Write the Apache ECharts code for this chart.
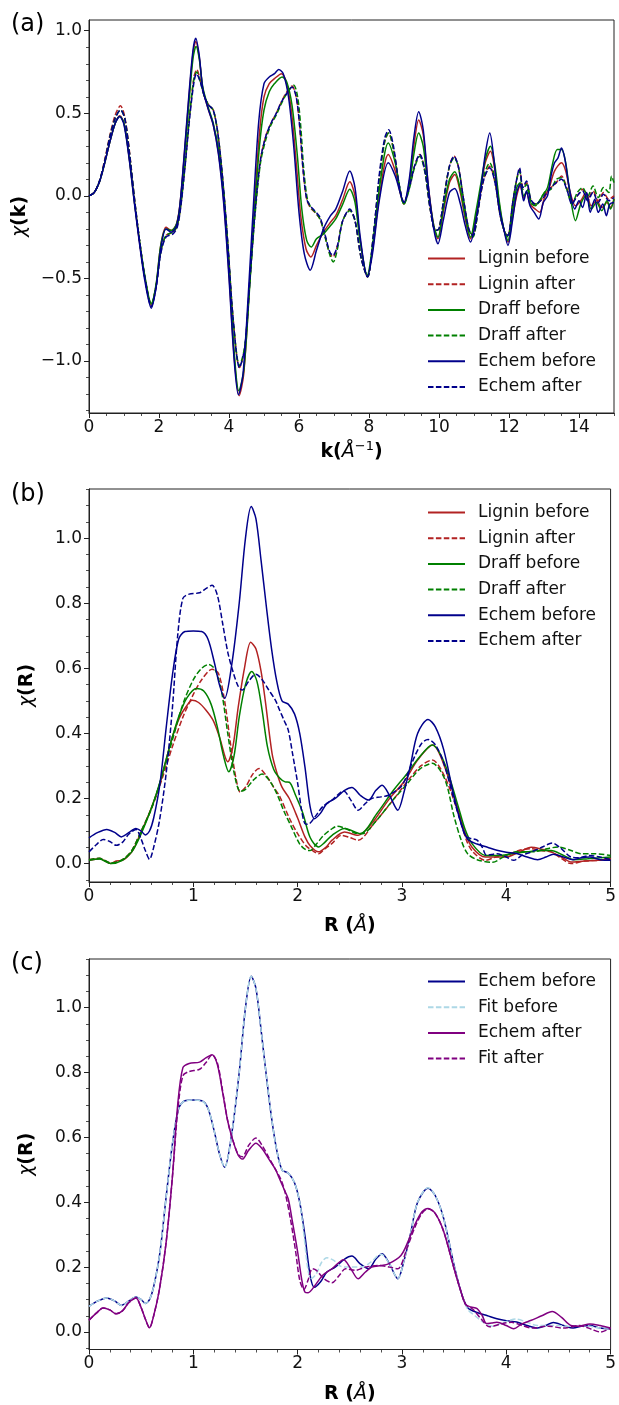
<!DOCTYPE html>
<html><head><meta charset="utf-8">
<script src="https://cdn.jsdelivr.net/npm/echarts@6/dist/echarts.min.js"></script>
<style>html,body{margin:0;padding:0;background:#fff}#c{width:619px;height:1405px}</style>
</head><body><div id="c"></div>
<script>
// ---------------- Panel (a): chi(k) ----------------
const aLigninBefore = [[0,0],[0.15,0.02],[0.3,0.085],[0.45,0.2],[0.6,0.33],[0.75,0.44],[0.88,0.485],[1.0,0.44],[1.15,0.23],[1.3,-0.04],[1.45,-0.29],[1.6,-0.5],[1.78,-0.665],[1.92,-0.54],[2.05,-0.3],[2.2,-0.19],[2.35,-0.21],[2.5,-0.17],[2.6,-0.05],[2.72,0.24],[2.85,0.58],[2.97,0.86],[3.05,0.935],[3.15,0.84],[3.25,0.65],[3.4,0.53],[3.55,0.43],[3.7,0.26],[3.85,-0.03],[4.0,-0.47],[4.15,-0.98],[4.29,-1.21],[4.42,-1.08],[4.57,-0.6],[4.72,-0.08],[4.87,0.38],[5.0,0.6],[5.15,0.68],[5.3,0.71],[5.5,0.74],[5.62,0.7],[5.78,0.52],[5.92,0.2],[6.05,-0.12],[6.2,-0.32],[6.34,-0.37],[6.5,-0.3],[6.7,-0.22],[6.9,-0.16],[7.05,-0.12],[7.25,-0.02],[7.45,0.085],[7.6,0.0],[7.75,-0.27],[7.95,-0.49],[8.1,-0.33],[8.3,0.0],[8.55,0.25],[8.75,0.15],[9.0,-0.05],[9.15,0.08],[9.28,0.3],[9.42,0.46],[9.55,0.37],[9.7,0.05],[9.85,-0.18],[9.97,-0.26],[10.12,-0.1],[10.3,0.08],[10.45,0.13],[10.6,0.03],[10.75,-0.14],[10.9,-0.26],[11.05,-0.13],[11.2,0.05],[11.32,0.2],[11.47,0.27],[11.6,0.15],[11.72,-0.05],[11.85,-0.2],[11.97,-0.28],[12.1,-0.13],[12.22,0.0],[12.32,0.06],[12.42,-0.01],[12.5,0.02],[12.6,-0.05],[12.75,-0.08],[12.88,-0.1],[13.0,-0.02],[13.15,0.05],[13.3,0.15],[13.5,0.2],[13.62,0.15],[13.75,0.02],[13.9,-0.06],[14.05,-0.03],[14.2,0.02],[14.35,-0.06],[14.5,-0.03],[14.65,-0.07],[14.8,-0.04],[14.9,-0.07],[15,-0.02]];
const aLigninAfter = [[0,0],[0.15,0.02],[0.3,0.09],[0.45,0.22],[0.6,0.37],[0.75,0.49],[0.9,0.545],[1.02,0.48],[1.15,0.28],[1.3,-0.02],[1.45,-0.28],[1.6,-0.5],[1.78,-0.66],[1.92,-0.54],[2.05,-0.34],[2.2,-0.24],[2.4,-0.22],[2.52,-0.18],[2.62,-0.06],[2.75,0.2],[2.88,0.5],[3.0,0.72],[3.08,0.765],[3.18,0.7],[3.3,0.6],[3.42,0.55],[3.55,0.52],[3.68,0.38],[3.82,0.1],[3.97,-0.3],[4.12,-0.75],[4.3,-1.04],[4.45,-0.92],[4.6,-0.5],[4.75,-0.08],[4.9,0.22],[5.05,0.36],[5.2,0.44],[5.35,0.5],[5.5,0.57],[5.65,0.63],[5.8,0.665],[5.92,0.6],[6.02,0.42],[6.12,0.15],[6.22,-0.02],[6.32,-0.07],[6.45,-0.1],[6.6,-0.14],[6.75,-0.25],[6.88,-0.35],[6.97,-0.37],[7.1,-0.3],[7.25,-0.15],[7.45,-0.085],[7.6,-0.15],[7.78,-0.38],[7.96,-0.49],[8.12,-0.25],[8.3,0.12],[8.45,0.33],[8.56,0.38],[8.7,0.28],[8.85,0.08],[9.0,-0.04],[9.15,0.05],[9.3,0.18],[9.45,0.25],[9.6,0.15],[9.75,-0.08],[9.9,-0.21],[10.0,-0.2],[10.15,0.0],[10.3,0.18],[10.43,0.24],[10.55,0.18],[10.7,-0.02],[10.85,-0.2],[10.97,-0.24],[11.12,-0.08],[11.28,0.1],[11.45,0.18],[11.6,0.08],[11.75,-0.12],[11.88,-0.22],[11.97,-0.24],[12.1,-0.05],[12.22,0.1],[12.3,0.16],[12.4,0.05],[12.5,0.08],[12.62,-0.02],[12.75,-0.05],[12.9,-0.03],[13.05,0.02],[13.2,0.05],[13.35,0.08],[13.5,0.12],[13.65,0.05],[13.8,-0.04],[13.95,0.0],[14.1,0.04],[14.25,-0.02],[14.4,0.03],[14.55,-0.03],[14.7,0.02],[14.85,-0.02],[15,0.0]];
const aDraffBefore = [[0,0],[0.15,0.02],[0.3,0.085],[0.45,0.2],[0.6,0.33],[0.75,0.44],[0.88,0.48],[1.0,0.44],[1.15,0.23],[1.3,-0.04],[1.45,-0.28],[1.6,-0.49],[1.78,-0.655],[1.92,-0.53],[2.05,-0.3],[2.2,-0.2],[2.35,-0.21],[2.5,-0.17],[2.6,-0.06],[2.72,0.22],[2.85,0.55],[2.97,0.83],[3.06,0.905],[3.15,0.83],[3.25,0.66],[3.4,0.54],[3.55,0.44],[3.7,0.28],[3.85,0.0],[4.0,-0.43],[4.15,-0.95],[4.28,-1.18],[4.42,-1.06],[4.57,-0.62],[4.72,-0.12],[4.87,0.3],[5.0,0.52],[5.15,0.63],[5.3,0.68],[5.52,0.72],[5.65,0.69],[5.8,0.55],[5.95,0.25],[6.08,-0.08],[6.22,-0.27],[6.35,-0.31],[6.5,-0.26],[6.7,-0.23],[6.9,-0.18],[7.05,-0.14],[7.25,-0.05],[7.45,0.04],[7.6,-0.04],[7.75,-0.28],[7.95,-0.48],[8.1,-0.3],[8.3,0.05],[8.55,0.32],[8.75,0.2],[9.0,-0.05],[9.15,0.06],[9.28,0.25],[9.42,0.38],[9.55,0.3],[9.7,0.03],[9.85,-0.18],[9.97,-0.25],[10.12,-0.08],[10.3,0.1],[10.45,0.146],[10.6,0.05],[10.75,-0.12],[10.9,-0.25],[11.05,-0.1],[11.2,0.08],[11.32,0.22],[11.47,0.3],[11.6,0.18],[11.72,-0.03],[11.85,-0.2],[11.97,-0.27],[12.1,-0.1],[12.22,0.05],[12.32,0.08],[12.42,0.0],[12.55,0.04],[12.65,-0.05],[12.8,-0.05],[12.95,0.0],[13.1,0.05],[13.25,0.2],[13.38,0.28],[13.5,0.28],[13.62,0.2],[13.75,0.0],[13.9,-0.15],[14.05,-0.05],[14.2,0.0],[14.35,-0.08],[14.5,-0.04],[14.65,-0.09],[14.8,-0.03],[14.9,-0.08],[15,-0.02]];
const aDraffAfter = [[0,0],[0.15,0.02],[0.3,0.09],[0.45,0.21],[0.6,0.36],[0.75,0.47],[0.9,0.52],[1.02,0.47],[1.15,0.27],[1.3,-0.02],[1.45,-0.28],[1.6,-0.5],[1.78,-0.655],[1.92,-0.54],[2.05,-0.34],[2.2,-0.24],[2.4,-0.22],[2.52,-0.18],[2.62,-0.06],[2.75,0.2],[2.88,0.5],[3.0,0.71],[3.08,0.75],[3.18,0.69],[3.3,0.6],[3.42,0.55],[3.55,0.52],[3.68,0.38],[3.82,0.1],[3.97,-0.3],[4.12,-0.75],[4.3,-1.03],[4.45,-0.91],[4.6,-0.5],[4.75,-0.1],[4.9,0.2],[5.05,0.34],[5.2,0.43],[5.35,0.49],[5.5,0.56],[5.65,0.62],[5.85,0.67],[5.96,0.6],[6.05,0.42],[6.14,0.15],[6.24,-0.02],[6.34,-0.07],[6.47,-0.1],[6.62,-0.15],[6.77,-0.27],[6.9,-0.37],[6.98,-0.4],[7.1,-0.32],[7.25,-0.15],[7.45,-0.09],[7.6,-0.15],[7.78,-0.38],[7.96,-0.49],[8.12,-0.25],[8.3,0.12],[8.45,0.33],[8.56,0.38],[8.7,0.28],[8.85,0.08],[9.0,-0.05],[9.15,0.04],[9.3,0.17],[9.45,0.24],[9.6,0.14],[9.75,-0.08],[9.9,-0.21],[10.0,-0.2],[10.15,0.0],[10.3,0.18],[10.43,0.23],[10.55,0.18],[10.7,-0.02],[10.85,-0.2],[10.97,-0.25],[11.12,-0.08],[11.28,0.12],[11.45,0.2],[11.6,0.1],[11.75,-0.12],[11.88,-0.22],[11.97,-0.25],[12.1,-0.05],[12.22,0.1],[12.3,0.15],[12.4,0.04],[12.5,0.07],[12.62,-0.04],[12.75,-0.06],[12.9,-0.02],[13.05,0.03],[13.2,0.04],[13.35,0.1],[13.5,0.11],[13.65,0.04],[13.8,-0.05],[13.95,0.02],[14.1,0.05],[14.25,0.0],[14.4,0.06],[14.55,-0.01],[14.7,0.05],[14.85,0.02],[14.93,0.12],[15,0.08]];
const aEchemBefore = [[0,0],[0.15,0.02],[0.3,0.085],[0.45,0.2],[0.6,0.33],[0.75,0.44],[0.88,0.48],[1.0,0.43],[1.15,0.22],[1.3,-0.05],[1.45,-0.3],[1.6,-0.52],[1.78,-0.68],[1.92,-0.55],[2.05,-0.32],[2.2,-0.2],[2.35,-0.22],[2.5,-0.18],[2.6,-0.05],[2.72,0.25],[2.85,0.6],[2.97,0.88],[3.05,0.955],[3.15,0.85],[3.25,0.65],[3.4,0.53],[3.55,0.43],[3.7,0.25],[3.85,-0.05],[4.0,-0.5],[4.15,-1.0],[4.27,-1.205],[4.4,-1.08],[4.55,-0.6],[4.7,-0.05],[4.85,0.45],[5.0,0.68],[5.15,0.72],[5.3,0.74],[5.42,0.765],[5.55,0.74],[5.7,0.6],[5.85,0.3],[6.0,-0.1],[6.15,-0.35],[6.32,-0.45],[6.5,-0.33],[6.7,-0.2],[6.9,-0.12],[7.05,-0.08],[7.25,0.03],[7.45,0.15],[7.6,0.05],[7.75,-0.25],[7.95,-0.49],[8.1,-0.35],[8.3,-0.02],[8.55,0.2],[8.75,0.12],[9.0,-0.04],[9.15,0.1],[9.28,0.35],[9.42,0.51],[9.55,0.4],[9.7,0.05],[9.85,-0.2],[9.97,-0.29],[10.12,-0.15],[10.3,0.02],[10.45,0.045],[10.6,-0.04],[10.75,-0.18],[10.9,-0.28],[11.05,-0.15],[11.2,0.05],[11.32,0.25],[11.45,0.38],[11.58,0.2],[11.7,-0.05],[11.85,-0.2],[11.97,-0.3],[12.1,-0.15],[12.22,0.02],[12.32,0.07],[12.42,-0.03],[12.5,0.03],[12.6,-0.06],[12.72,-0.1],[12.85,-0.14],[12.98,-0.04],[13.1,0.0],[13.2,0.12],[13.3,0.2],[13.4,0.23],[13.5,0.29],[13.6,0.22],[13.72,0.05],[13.88,-0.08],[14.0,-0.03],[14.1,-0.07],[14.22,0.02],[14.32,-0.1],[14.45,-0.02],[14.55,-0.1],[14.68,-0.05],[14.78,-0.12],[14.88,-0.05],[15,-0.04]];
const aEchemAfter = [[0,0],[0.15,0.02],[0.3,0.09],[0.45,0.21],[0.6,0.36],[0.75,0.47],[0.9,0.52],[1.02,0.47],[1.15,0.27],[1.3,-0.02],[1.45,-0.28],[1.6,-0.5],[1.78,-0.67],[1.92,-0.55],[2.05,-0.35],[2.2,-0.25],[2.4,-0.23],[2.52,-0.19],[2.62,-0.07],[2.75,0.19],[2.88,0.48],[3.0,0.69],[3.07,0.74],[3.18,0.69],[3.3,0.6],[3.42,0.55],[3.55,0.52],[3.68,0.38],[3.82,0.1],[3.97,-0.3],[4.12,-0.75],[4.3,-1.04],[4.45,-0.92],[4.6,-0.5],[4.75,-0.08],[4.9,0.22],[5.05,0.36],[5.2,0.44],[5.35,0.5],[5.5,0.57],[5.65,0.62],[5.8,0.66],[5.92,0.6],[6.02,0.42],[6.12,0.15],[6.22,-0.02],[6.32,-0.06],[6.45,-0.09],[6.6,-0.13],[6.75,-0.24],[6.88,-0.34],[6.97,-0.36],[7.1,-0.3],[7.25,-0.15],[7.45,-0.08],[7.6,-0.15],[7.78,-0.38],[7.96,-0.49],[8.12,-0.25],[8.3,0.14],[8.45,0.35],[8.56,0.4],[8.7,0.3],[8.85,0.08],[9.0,-0.04],[9.15,0.05],[9.3,0.18],[9.45,0.25],[9.6,0.15],[9.75,-0.08],[9.9,-0.21],[10.0,-0.2],[10.15,0.0],[10.3,0.18],[10.43,0.24],[10.55,0.18],[10.7,-0.02],[10.85,-0.2],[10.97,-0.24],[11.12,-0.08],[11.28,0.1],[11.45,0.17],[11.6,0.08],[11.75,-0.12],[11.88,-0.22],[11.97,-0.24],[12.1,-0.05],[12.22,0.1],[12.3,0.17],[12.4,0.05],[12.5,0.09],[12.62,-0.02],[12.75,-0.05],[12.9,-0.03],[13.05,0.01],[13.2,0.05],[13.35,0.08],[13.5,0.1],[13.65,0.04],[13.8,-0.05],[13.95,0.0],[14.1,0.03],[14.25,-0.03],[14.4,0.02],[14.55,-0.04],[14.7,0.01],[14.85,-0.03],[15,-0.01]];

// ---------------- Panel (b): chi(R) ----------------
const bLigninBefore = [[0,0.01],[0.1,0.015],[0.21,0.0],[0.26,0.008],[0.32,0.01],[0.41,0.036],[0.47,0.075],[0.55,0.133],[0.62,0.19],[0.68,0.246],[0.74,0.32],[0.8,0.39],[0.87,0.45],[0.93,0.482],[0.99,0.502],[1.05,0.495],[1.12,0.472],[1.19,0.44],[1.25,0.39],[1.33,0.313],[1.38,0.36],[1.43,0.48],[1.49,0.6],[1.55,0.68],[1.6,0.66],[1.65,0.59],[1.69,0.5],[1.755,0.338],[1.8,0.28],[1.85,0.235],[1.92,0.2],[2.0,0.14],[2.07,0.082],[2.12,0.055],[2.2,0.036],[2.27,0.05],[2.33,0.072],[2.45,0.097],[2.58,0.087],[2.71,0.123],[2.87,0.195],[3.03,0.256],[3.15,0.318],[3.295,0.364],[3.41,0.297],[3.54,0.164],[3.6,0.1],[3.67,0.051],[3.8,0.02],[3.99,0.02],[4.12,0.035],[4.24,0.05],[4.33,0.045],[4.43,0.036],[4.53,0.02],[4.62,0.005],[4.75,0.008],[4.88,0.01],[5.0,0.015]];
const bLigninAfter = [[0,0.012],[0.1,0.016],[0.21,0.002],[0.32,0.012],[0.41,0.04],[0.5,0.1],[0.6,0.17],[0.7,0.26],[0.8,0.36],[0.9,0.45],[1.0,0.52],[1.08,0.565],[1.18,0.597],[1.24,0.585],[1.3,0.5],[1.36,0.36],[1.41,0.26],[1.45,0.22],[1.5,0.235],[1.57,0.275],[1.63,0.292],[1.7,0.27],[1.77,0.235],[1.83,0.205],[1.92,0.14],[2.0,0.092],[2.08,0.055],[2.16,0.036],[2.2,0.03],[2.26,0.045],[2.33,0.062],[2.42,0.087],[2.5,0.08],[2.58,0.072],[2.73,0.123],[2.89,0.185],[3.06,0.256],[3.18,0.3],[3.29,0.318],[3.41,0.267],[3.54,0.154],[3.62,0.07],[3.68,0.036],[3.8,0.01],[3.9,0.02],[4.0,0.025],[4.12,0.04],[4.24,0.046],[4.33,0.04],[4.43,0.036],[4.53,0.015],[4.62,0.0],[4.75,0.008],[4.88,0.01],[5.0,0.016]];
const bDraffBefore = [[0,0.01],[0.1,0.014],[0.21,0.0],[0.32,0.01],[0.41,0.036],[0.47,0.07],[0.55,0.13],[0.62,0.19],[0.68,0.25],[0.74,0.32],[0.8,0.39],[0.87,0.46],[0.94,0.51],[1.03,0.538],[1.1,0.53],[1.17,0.49],[1.23,0.42],[1.29,0.33],[1.34,0.282],[1.39,0.33],[1.44,0.45],[1.5,0.55],[1.56,0.59],[1.61,0.56],[1.66,0.47],[1.71,0.36],[1.77,0.29],[1.83,0.262],[1.88,0.251],[1.92,0.25],[1.98,0.21],[2.05,0.155],[2.12,0.08],[2.2,0.051],[2.26,0.065],[2.33,0.087],[2.45,0.108],[2.6,0.092],[2.76,0.154],[2.92,0.226],[3.05,0.277],[3.17,0.328],[3.29,0.364],[3.41,0.307],[3.54,0.175],[3.6,0.11],[3.67,0.062],[3.8,0.025],[3.93,0.025],[4.05,0.03],[4.2,0.036],[4.32,0.04],[4.43,0.04],[4.55,0.025],[4.65,0.012],[4.78,0.015],[4.9,0.018],[5.0,0.02]];
const bDraffAfter = [[0,0.012],[0.1,0.016],[0.21,0.002],[0.32,0.012],[0.41,0.04],[0.5,0.1],[0.6,0.17],[0.7,0.27],[0.8,0.38],[0.9,0.49],[1.0,0.565],[1.08,0.6],[1.15,0.612],[1.21,0.595],[1.27,0.53],[1.33,0.4],[1.39,0.28],[1.45,0.222],[1.5,0.228],[1.58,0.258],[1.66,0.275],[1.73,0.255],[1.8,0.215],[1.87,0.16],[1.94,0.113],[2.02,0.06],[2.08,0.042],[2.12,0.04],[2.18,0.06],[2.25,0.087],[2.32,0.105],[2.38,0.115],[2.46,0.108],[2.54,0.095],[2.62,0.092],[2.75,0.13],[2.9,0.19],[3.05,0.245],[3.17,0.29],[3.29,0.308],[3.41,0.26],[3.5,0.144],[3.57,0.07],[3.63,0.03],[3.72,0.012],[3.87,0.004],[3.97,0.02],[4.09,0.036],[4.25,0.036],[4.38,0.045],[4.5,0.051],[4.62,0.04],[4.72,0.03],[4.85,0.03],[5.0,0.025]];
const bEchemBefore = [[0,0.079],[0.08,0.095],[0.17,0.105],[0.25,0.095],[0.31,0.082],[0.38,0.095],[0.45,0.108],[0.5,0.1],[0.54,0.088],[0.58,0.1],[0.62,0.14],[0.68,0.245],[0.74,0.418],[0.8,0.58],[0.86,0.69],[0.92,0.713],[1.0,0.715],[1.08,0.713],[1.14,0.69],[1.2,0.62],[1.25,0.55],[1.3,0.508],[1.37,0.615],[1.44,0.8],[1.5,1.0],[1.555,1.097],[1.6,1.06],[1.65,0.93],[1.7,0.79],[1.75,0.66],[1.8,0.56],[1.85,0.5],[1.91,0.49],[1.97,0.46],[2.02,0.4],[2.07,0.297],[2.12,0.174],[2.16,0.138],[2.22,0.155],[2.28,0.185],[2.36,0.2],[2.45,0.225],[2.52,0.234],[2.6,0.21],[2.68,0.195],[2.75,0.225],[2.81,0.241],[2.88,0.21],[2.96,0.164],[3.02,0.22],[3.08,0.3],[3.15,0.4],[3.25,0.443],[3.32,0.42],[3.4,0.35],[3.5,0.205],[3.57,0.12],[3.63,0.075],[3.72,0.06],[3.82,0.05],[3.91,0.041],[4.0,0.035],[4.1,0.031],[4.2,0.02],[4.3,0.012],[4.38,0.02],[4.45,0.029],[4.55,0.02],[4.64,0.012],[4.72,0.018],[4.8,0.02],[4.9,0.012],[5.0,0.01]];
const bEchemAfter = [[0,0.036],[0.07,0.058],[0.136,0.074],[0.2,0.068],[0.26,0.056],[0.32,0.065],[0.38,0.09],[0.45,0.105],[0.5,0.075],[0.54,0.04],[0.58,0.013],[0.62,0.05],[0.676,0.133],[0.74,0.278],[0.8,0.48],[0.85,0.7],[0.9,0.815],[0.96,0.828],[1.06,0.832],[1.12,0.845],[1.18,0.855],[1.23,0.825],[1.28,0.74],[1.33,0.65],[1.38,0.59],[1.43,0.545],[1.47,0.533],[1.53,0.56],[1.6,0.582],[1.66,0.565],[1.72,0.535],[1.79,0.5],[1.82,0.477],[1.87,0.44],[1.91,0.41],[1.95,0.34],[2.0,0.247],[2.04,0.16],[2.07,0.123],[2.1,0.121],[2.17,0.145],[2.24,0.175],[2.33,0.195],[2.44,0.223],[2.51,0.195],[2.58,0.164],[2.65,0.185],[2.71,0.2],[2.8,0.205],[2.87,0.21],[2.99,0.236],[3.06,0.28],[3.12,0.328],[3.19,0.37],[3.25,0.381],[3.32,0.365],[3.4,0.31],[3.5,0.195],[3.56,0.13],[3.61,0.085],[3.66,0.077],[3.72,0.072],[3.77,0.05],[3.81,0.026],[3.86,0.028],[3.91,0.03],[4.0,0.02],[4.07,0.01],[4.15,0.025],[4.24,0.036],[4.34,0.05],[4.44,0.063],[4.53,0.045],[4.62,0.02],[4.7,0.018],[4.8,0.025],[4.9,0.02],[5.0,0.012]];

// ---------------- Panel (c): fits ----------------
const cEchemBefore = bEchemBefore;
const cFitBefore = [[0,0.079],[0.08,0.095],[0.17,0.105],[0.25,0.095],[0.31,0.082],[0.38,0.095],[0.45,0.108],[0.5,0.1],[0.54,0.088],[0.58,0.1],[0.62,0.14],[0.68,0.245],[0.74,0.418],[0.8,0.58],[0.86,0.69],[0.92,0.713],[1.0,0.715],[1.08,0.713],[1.14,0.69],[1.2,0.62],[1.25,0.55],[1.3,0.508],[1.37,0.615],[1.44,0.8],[1.5,1.0],[1.555,1.097],[1.6,1.06],[1.65,0.93],[1.7,0.79],[1.75,0.66],[1.8,0.56],[1.85,0.5],[1.91,0.49],[1.97,0.46],[2.02,0.4],[2.06,0.3],[2.1,0.19],[2.13,0.165],[2.18,0.18],[2.23,0.215],[2.28,0.229],[2.35,0.22],[2.41,0.203],[2.48,0.2],[2.55,0.2],[2.62,0.2],[2.7,0.215],[2.8,0.24],[2.88,0.21],[2.96,0.165],[3.02,0.22],[3.08,0.3],[3.15,0.4],[3.25,0.445],[3.32,0.42],[3.4,0.35],[3.5,0.205],[3.57,0.12],[3.63,0.07],[3.7,0.05],[3.78,0.03],[3.87,0.018],[3.98,0.03],[4.09,0.04],[4.2,0.03],[4.3,0.02],[4.45,0.02],[4.6,0.018],[4.75,0.02],[4.9,0.012],[5.0,0.012]];
const cEchemAfter = bEchemAfter;
const cFitAfter = [[0,0.036],[0.07,0.058],[0.136,0.074],[0.2,0.068],[0.26,0.056],[0.32,0.065],[0.38,0.09],[0.45,0.105],[0.5,0.075],[0.54,0.04],[0.58,0.013],[0.62,0.05],[0.676,0.133],[0.74,0.278],[0.8,0.48],[0.85,0.68],[0.9,0.79],[0.96,0.803],[1.06,0.81],[1.12,0.83],[1.18,0.855],[1.23,0.83],[1.28,0.745],[1.33,0.65],[1.38,0.59],[1.43,0.548],[1.47,0.54],[1.53,0.575],[1.6,0.598],[1.66,0.575],[1.72,0.54],[1.79,0.5],[1.84,0.47],[1.88,0.43],[1.93,0.35],[1.98,0.25],[2.02,0.16],[2.06,0.131],[2.1,0.16],[2.14,0.195],[2.18,0.19],[2.25,0.165],[2.33,0.152],[2.4,0.175],[2.46,0.195],[2.55,0.19],[2.65,0.2],[2.78,0.205],[2.88,0.2],[2.96,0.195],[3.05,0.26],[3.12,0.32],[3.19,0.365],[3.25,0.38],[3.32,0.365],[3.4,0.31],[3.5,0.195],[3.56,0.13],[3.61,0.085],[3.68,0.07],[3.76,0.04],[3.84,0.016],[3.95,0.025],[4.05,0.03],[4.15,0.02],[4.25,0.012],[4.4,0.018],[4.55,0.012],[4.7,0.02],[4.82,0.008],[4.9,0.0],[5.0,0.012]];

// ---------------- Ticks / labels ----------------
const aXTicks = [0,2,4,6,8,10,12,14];
const aYTicks = [-1.0,-0.5,0.0,0.5,1.0];
const rXTicks = [0,1,2,3,4,5];
const rYTicks = [0.0,0.2,0.4,0.6,0.8,1.0];
const panelLetters = ['(a)','(b)','(c)'];
const legendA = ['Lignin before','Lignin after','Draff before','Draff after','Echem before','Echem after'];
const legendC = ['Echem before','Fit before','Echem after','Fit after'];

function steps(from, to, st){ const r=[]; for(let v=from; v<=to+1e-9; v+=st) r.push(Math.round(v*1000)/1000); return r; }

const FONT = 'DejaVu Sans';
const C_RED = '#b22222', C_GREEN = '#008000', C_BLUE = '#00008b', C_LB = '#add8e6', C_PUR = '#800080';
const DASH = [5.5, 2.4];

const fmtNum = d => v => (v < 0 ? '\u2212' : '') + Math.abs(v).toFixed(d);

const grids = [
  {left:89, top:20, width:525, height:393},
  {left:89, top:489, width:525, height:393},
  {left:89, top:959, width:525, height:391}
];
const ranges = [
  {xmin:0, xmax:15, ymin:-1.315, ymax:1.065, xt:aXTicks, yt:aYTicks, xm:steps(0,15,0.5), ym:steps(-1.3,1.0,0.1), xd:0, yd:1,
   xname:'{b|k(}{i|Å}{s|\u22121}{b|)}', yname:'{i|χ}{b|(k)}', xgap:27},
  {xmin:0, xmax:5, ymin:-0.0566, ymax:1.151, xt:rXTicks, yt:rYTicks, xm:steps(0,5,0.2), ym:steps(-0.05,1.15,0.05), xd:0, yd:1,
   xname:'{b|R (}{i|Å}{b|)}', yname:'{i|χ}{b|(R)}', xgap:32},
  {xmin:0, xmax:5, ymin:-0.054, ymax:1.15, xt:rXTicks, yt:rYTicks, xm:steps(0,5,0.2), ym:steps(-0.05,1.15,0.05), xd:0, yd:1,
   xname:'{b|R (}{i|Å}{b|)}', yname:'{i|χ}{b|(R)}', xgap:33}
];
const nameRich = {
  b:{fontFamily:FONT, fontWeight:'bold', fontSize:19, color:'#000', lineHeight:24},
  i:{fontFamily:FONT, fontStyle:'italic', fontSize:19, color:'#000', lineHeight:24},
  s:{fontFamily:FONT, fontSize:13, color:'#000', verticalAlign:'top', lineHeight:13}
};

const xAxes = [], yAxes = [];
ranges.forEach((r, g) => {
  xAxes.push({type:'value', gridIndex:g, min:r.xmin, max:r.xmax, position:'bottom',
    axisLine:{show:true, onZero:false, lineStyle:{color:'#222', width:1}},
    axisTick:{show:true, length:5, customValues:r.xt, lineStyle:{color:'#222', width:1}},
    axisLabel:{customValues:r.xt, formatter:fmtNum(r.xd), fontFamily:FONT, fontSize:17, color:'#111', margin:6},
    splitLine:{show:false},
    name:r.xname, nameLocation:'middle', nameGap:r.xgap, nameTextStyle:{rich:nameRich}});
  xAxes.push({type:'value', gridIndex:g, min:r.xmin, max:r.xmax, position:'bottom',
    axisLine:{show:false, onZero:false}, axisTick:{show:true, length:3, customValues:r.xm, lineStyle:{color:'#222', width:0.8}},
    axisLabel:{show:false}, splitLine:{show:false}});
  yAxes.push({type:'value', gridIndex:g, min:r.ymin, max:r.ymax, position:'left',
    axisLine:{show:true, onZero:false, lineStyle:{color:'#222', width:1}},
    axisTick:{show:true, length:5, customValues:r.yt, lineStyle:{color:'#222', width:1}},
    axisLabel:{customValues:r.yt, formatter:fmtNum(r.yd), fontFamily:FONT, fontSize:17, color:'#111', margin:7},
    splitLine:{show:false},
    name:r.yname, nameLocation:'middle', nameGap:50, nameRotate:90, nameTextStyle:{rich:nameRich}});
  yAxes.push({type:'value', gridIndex:g, min:r.ymin, max:r.ymax, position:'left',
    axisLine:{show:false, onZero:false}, axisTick:{show:true, length:3, customValues:r.ym, lineStyle:{color:'#222', width:0.8}},
    axisLabel:{show:false}, splitLine:{show:false}});
});

function mk(id, name, data, color, dashed, g){
  return {type:'line', name:id+':'+name, data:data, xAxisIndex:2*g, yAxisIndex:2*g,
    symbol:'none', showSymbol:false, smooth:0.3, silent:true, clip:true,
    lineStyle:{color:color, width:1.5, type: dashed ? DASH : 'solid'},
    itemStyle:{color:color}, emphasis:{disabled:true}};
}
const series = [
  mk('a', legendA[0], aLigninBefore, C_RED, false, 0),
  mk('a', legendA[1], aLigninAfter, C_RED, true, 0),
  mk('a', legendA[2], aDraffBefore, C_GREEN, false, 0),
  mk('a', legendA[3], aDraffAfter, C_GREEN, true, 0),
  mk('a', legendA[4], aEchemBefore, C_BLUE, false, 0),
  mk('a', legendA[5], aEchemAfter, C_BLUE, true, 0),
  mk('b', legendA[0], bLigninBefore, C_RED, false, 1),
  mk('b', legendA[1], bLigninAfter, C_RED, true, 1),
  mk('b', legendA[2], bDraffBefore, C_GREEN, false, 1),
  mk('b', legendA[3], bDraffAfter, C_GREEN, true, 1),
  mk('b', legendA[4], bEchemBefore, C_BLUE, false, 1),
  mk('b', legendA[5], bEchemAfter, C_BLUE, true, 1),
  mk('c', legendC[0], cEchemBefore, C_BLUE, false, 2),
  mk('c', legendC[1], cFitBefore, C_LB, true, 2),
  mk('c', legendC[2], cEchemAfter, C_PUR, false, 2),
  mk('c', legendC[3], cFitAfter, C_PUR, true, 2)
];

function legend(id, names, top){
  return {orient:'vertical', left:422, top:top, padding:5, itemWidth:37, itemHeight:14, itemGap:8.7,
    data:names.map(n => id+':'+n), selectedMode:false,
    itemStyle:{color:'transparent', borderColor:'transparent', borderWidth:0, opacity:0},
    formatter: n => n.slice(2),
    textStyle:{fontFamily:FONT, fontSize:17, color:'#111', padding:[0,0,0,8]}};
}

const chart = echarts.init(document.getElementById('c'), null, {renderer:'canvas'});
chart.setOption({
  animation:false,
  backgroundColor:'#fff',
  grid: grids.map(g => Object.assign({show:true, borderColor:'#222', borderWidth:1, backgroundColor:'transparent'}, g)),
  xAxis: xAxes, yAxis: yAxes,
  legend:[legend('a', legendA, 245), legend('b', legendA, 499), legend('c', legendC, 968)],
  series: series,
  graphic: [
    {type:'text', left:11, top:13, style:{text:panelLetters[0], font:'24px "DejaVu Sans"', fill:'#000'}},
    {type:'text', left:11, top:483, style:{text:panelLetters[1], font:'24px "DejaVu Sans"', fill:'#000'}},
    {type:'text', left:11, top:952, style:{text:panelLetters[2], font:'24px "DejaVu Sans"', fill:'#000'}}
  ]
});
</script></body></html>
